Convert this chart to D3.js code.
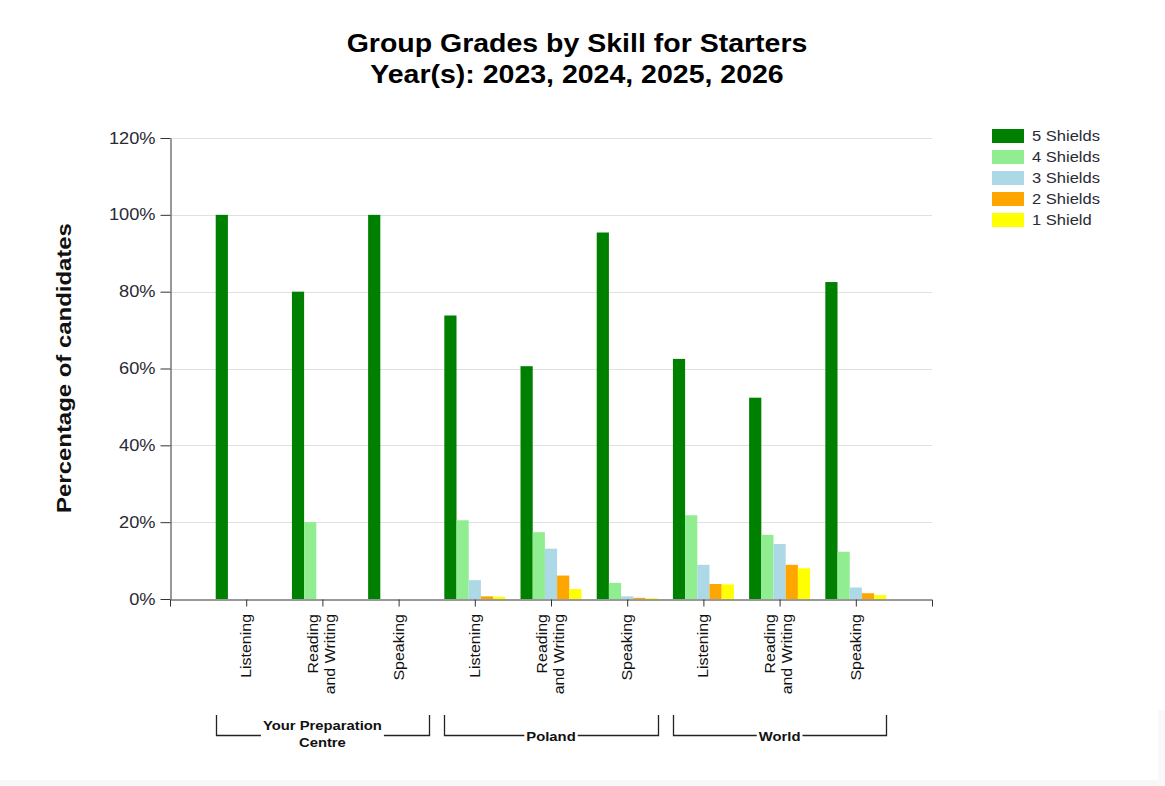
<!DOCTYPE html>
<html lang="en">
<head>
    <meta charset="UTF-8">
    <title>Group Grades by Skill for Starters</title>
    <script src="https://cdn.jsdelivr.net/npm/d3@7/dist/d3.min.js"></script>
    <style>
        body { margin: 0; background: #fff; }
        text { font-family: "Liberation Sans", Arial, sans-serif; }
    </style>
</head>
<body>
<script>
    // categories
    const groups = ["Your Preparation Centre", "Poland", "World"];
    const groupLines = [["Your Preparation", "Centre"], ["Poland"], ["World"]];
    const skills = ["Listening", "Reading and Writing", "Speaking"];
    const skillLines = [["Listening"], ["Reading", "and Writing"], ["Speaking"]];
    const grades = ["5 Shields", "4 Shields", "3 Shields", "2 Shields", "1 Shield"];

    // percentage of candidates, one value per group/skill (9 categories)
    const shields5 = [100, 80, 100, 73.8, 60.6, 95.4, 62.5, 52.4, 82.5];
    const shields4 = [0, 20, 0, 20.5, 17.4, 4.2, 21.8, 16.7, 12.3];
    const shields3 = [0, 0, 0, 4.9, 13.1, 0.7, 8.9, 14.3, 3.0];
    const shields2 = [0, 0, 0, 0.7, 6.1, 0.3, 3.9, 8.9, 1.5];
    const shields1 = [0, 0, 0, 0.6, 2.6, 0.2, 3.8, 8.0, 1.0];
    const yTicks = [0, 20, 40, 60, 80, 100, 120];

    const series = [shields5, shields4, shields3, shields2, shields1];
    const colours = ["#008000", "#90ee90", "#add8e6", "#ffa500", "#ffff00"];

    const width = 1165, height = 786;
    const SX = 1.14; // reference text is drawn a bit wide

    const svg = d3.select("body").append("svg")
        .attr("width", width)
        .attr("height", height);

    // faint frame at the bottom / right like the screenshot
    svg.append("rect").attr("x", 0).attr("y", 780).attr("width", width).attr("height", 6).attr("fill", "#f7f7f7");
    svg.append("rect").attr("x", 1158).attr("y", 710).attr("width", 7).attr("height", 76).attr("fill", "#f9f9f9");

    // category keys
    const cats = [];
    groups.forEach((g, gi) => skills.forEach((s, si) => cats.push({key: g + "|" + s, gi: gi, si: si})));

    const x = d3.scalePoint()
        .domain(cats.map(c => c.key))
        .range([170, 932])
        .padding(1);
    const step = x.step();

    const xInner = d3.scaleBand()
        .domain(grades)
        .range([-0.4 * step, 0.4 * step]);

    const y = d3.scaleLinear()
        .domain([0, 120])
        .range([599, 138]);

    // gridlines
    svg.append("g")
        .selectAll("line")
        .data(yTicks.slice(1))
        .enter().append("line")
        .attr("x1", 171).attr("x2", 932)
        .attr("y1", d => Math.round(y(d)) + 0.5)
        .attr("y2", d => Math.round(y(d)) + 0.5)
        .attr("stroke", "#e0e0e0")
        .attr("stroke-width", 1.2);

    // bars
    const barData = [];
    cats.forEach((c, ci) => grades.forEach((g, k) => barData.push({cat: c.key, grade: g, k: k, v: series[k][ci]})));

    svg.append("g")
        .selectAll("rect")
        .data(barData.filter(d => d.v > 0))
        .enter().append("rect")
        .attr("x", d => x(d.cat) + xInner(d.grade))
        .attr("y", d => y(d.v))
        .attr("width", xInner.bandwidth())
        .attr("height", d => y(0) - y(d.v))
        .attr("fill", d => colours[d.k]);

    // y axis
    const yAxis = svg.append("g")
        .attr("transform", "translate(170.5,0)")
        .call(d3.axisLeft(y).tickValues(yTicks).tickSize(10).tickSizeOuter(0).tickFormat(d => d + "%"));
    yAxis.select(".domain").attr("stroke", "#333");
    yAxis.selectAll(".tick line").attr("stroke", "#333");
    yAxis.selectAll(".tick text")
        .attr("x", -15 / SX)
        .attr("transform", `scale(${SX},1)`)
        .attr("font-size", 16)
        .attr("font-family", "Liberation Sans, Arial, sans-serif")
        .attr("fill", "#2a2a35");

    // x axis
    const xAxis = svg.append("g")
        .attr("transform", "translate(0,599.5)")
        .call(d3.axisBottom(x).tickSize(7).tickSizeOuter(7).tickFormat(""));
    xAxis.select(".domain").attr("stroke", "#333");
    xAxis.selectAll(".tick line").attr("stroke", "#333");

    // rotated skill labels
    cats.forEach(c => {
        const lines = skillLines[c.si];
        const g = svg.append("g")
            .attr("transform", `translate(${x(c.key)},614) rotate(-90) scale(${SX},1)`);
        lines.forEach((ln, li) => {
            const off = lines.length === 1 ? 5 : (li === 0 ? -4.5 : 12.5);
            g.append("text")
                .attr("x", 0)
                .attr("y", off)
                .attr("text-anchor", "end")
                .attr("font-size", 14)
                .attr("fill", "#111")
                .text(ln);
        });
    });

    // group brackets
    groups.forEach((grp, gi) => {
        const first = x(grp + "|" + skills[0]);
        const last = x(grp + "|" + skills[skills.length - 1]);
        const x0 = Math.round(first - 0.4 * step) + 0.5;
        const x1 = Math.round(last + 0.4 * step) + 0.5;
        const cx = (first + last) / 2;
        const lines = groupLines[gi];

        const tg = svg.append("g");
        let maxW = 0;
        lines.forEach((ln, li) => {
            const t = tg.append("g")
                .attr("transform", `translate(${cx},${740.5 - (lines.length - 1) * 10.5 + li * 17}) scale(${SX},1)`)
                .append("text")
                .attr("text-anchor", "middle")
                .attr("font-size", 13)
                .attr("font-weight", "bold")
                .attr("fill", "#111")
                .text(ln);
            maxW = Math.max(maxW, t.node().getComputedTextLength() * SX);
        });
        const gapL = cx - maxW / 2 - 2, gapR = cx + maxW / 2 + 2;
        svg.append("path")
            .attr("d", `M${x0},715 V735.5 H${gapL} M${gapR},735.5 H${x1} V715`)
            .attr("fill", "none")
            .attr("stroke", "#222")
            .attr("stroke-width", 1.3);
    });

    // y title
    svg.append("g")
        .attr("transform", `translate(71,368) rotate(-90) scale(${SX},1)`)
        .append("text")
        .attr("text-anchor", "middle")
        .attr("font-size", 21)
        .attr("font-weight", "bold")
        .attr("fill", "#111")
        .text("Percentage of candidates");

    // title
    const titleLines = ["Group Grades by Skill for Starters", "Year(s): 2023, 2024, 2025, 2026"];
    titleLines.forEach((ln, i) => {
        svg.append("g")
            .attr("transform", `translate(577,${52 + i * 31}) scale(${SX},1)`)
            .append("text")
            .attr("text-anchor", "middle")
            .attr("font-size", 25)
            .attr("font-weight", "bold")
            .attr("fill", "#000")
            .text(ln);
    });

    // legend
    const legend = svg.append("g");
    grades.forEach((g, i) => {
        legend.append("rect")
            .attr("x", 992).attr("y", 129 + i * 21)
            .attr("width", 32).attr("height", 14)
            .attr("fill", colours[i]);
        legend.append("g")
            .attr("transform", `translate(1032,${141 + i * 21}) scale(${SX},1)`)
            .append("text")
            .attr("font-size", 14.5)
            .attr("fill", "#2a2a35")
            .text(g);
    });
</script>
</body>
</html>
